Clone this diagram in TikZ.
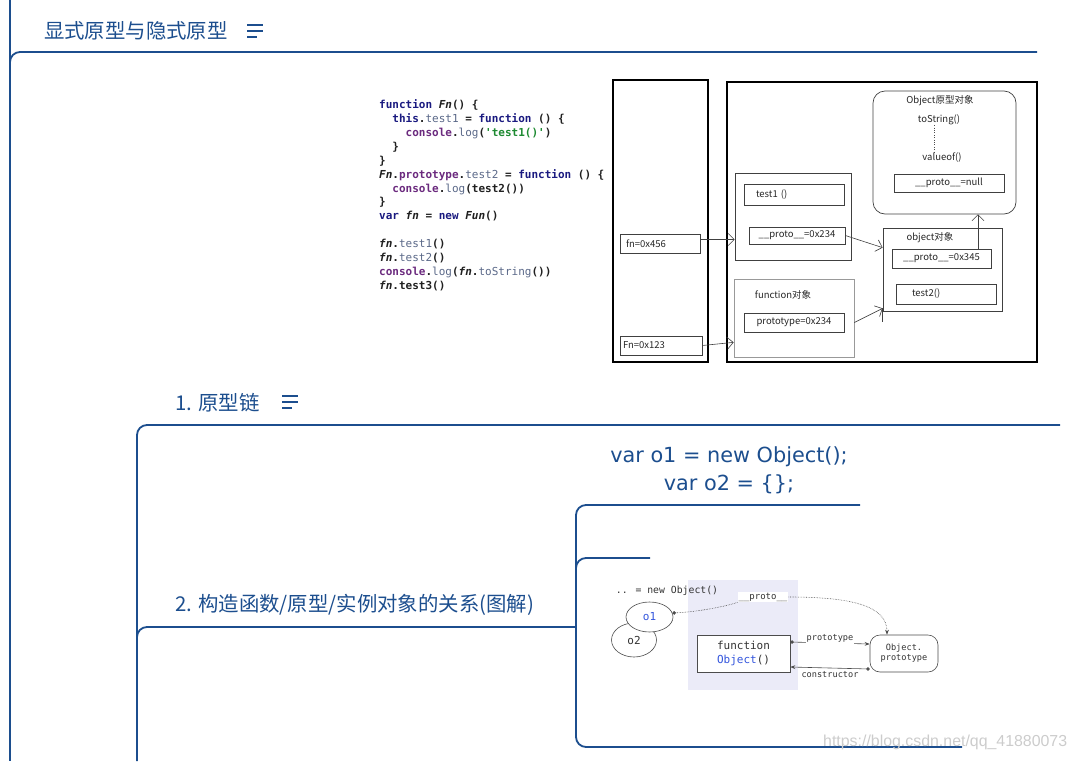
\documentclass[tikz,border=0pt]{standalone}
\usepackage{fontspec}
\usepackage{tikz}
\usetikzlibrary{positioning}
\usetikzlibrary{arrows.meta}
\usetikzlibrary{shapes.geometric}
\usetikzlibrary{calc}
\newfontfamily\cjk{Noto Sans CJK SC}
\newfontfamily\codefont{DejaVu Sans Mono}
\newfontfamily\varfont{DejaVu Sans}
\newfontfamily\markfont{Liberation Sans}
\definecolor{mapblue}{HTML}{1C4E8E}
\definecolor{codeink}{HTML}{202020}
\definecolor{codekw}{HTML}{1A1A80}
\definecolor{codeobj}{HTML}{6B2A7E}
\definecolor{codefld}{HTML}{5A6888}
\definecolor{codestr}{HTML}{1E8A32}
\definecolor{figbg}{HTML}{EBEBF8}
\definecolor{figblue}{HTML}{3355DD}
\newcommand\jskw[1]{\textcolor{codekw}{#1}}
\newcommand\jsobj[1]{\textcolor{codeobj}{#1}}
\newcommand\jsfld[1]{\textcolor{codefld}{\mdseries #1}}
\newcommand\jsstr[1]{\textcolor{codestr}{#1}}

\begin{document}
\begin{tikzpicture}[x=1pt, y=-1pt,
    mapline/.style={draw=mapblue, line width=1.8pt, rounded corners=10pt},
    maptitle/.style={font=\cjk\fontsize{20.4}{24}\selectfont, text=mapblue, anchor=west, inner sep=0},
    menuline/.style={draw=mapblue, line width=1.8pt},
    varcode/.style={font=\varfont\fontsize{20.8}{24}\selectfont, text=mapblue, inner sep=0},
    codetxt/.style={font=\codefont\bfseries\fontsize{11}{13.9}\selectfont, text=codeink, align=left, inner sep=0},
    memframe/.style={draw=black, line width=1.8pt},
    cell/.style={draw=black!75, line width=0.7pt, font=\cjk\fontsize{9.5}{11}\selectfont, text=black!85, inner sep=2pt},
    memtxt/.style={font=\cjk\fontsize{9.5}{11}\selectfont, text=black!85, inner sep=0},
    memarrow/.style={draw=black!75, line width=0.6pt, -{Straight Barb[length=6pt, width=12pt]}},
    figline/.style={draw=black!70, line width=0.6pt},
    figmono/.style={font=\codefont\fontsize{8.6}{10}\selectfont, text=black!80, inner sep=1pt}]
    \useasboundingbox (0,0) rectangle (1077,761);

    % Mind map branches
    \draw[mapline] (10,0) -- (10,761);
    \draw[mapline] (10,80) -- (10,52) -- (1037,52);
    \draw[mapline] (137,761) -- (137,425) -- (1060,425);
    \draw[mapline] (137,650) -- (137,627) -- (576,627);
    \draw[mapline] (860,505) -- (576,505) -- (576,747) -- (962,747);
    \draw[mapline] (576,580) -- (576,558) -- (650,558);

    % Titles
    \node[maptitle] (topic) at (44,31) {显式原型与隐式原型};
    \node[maptitle] (chain) at (175,403) {1. 原型链};
    \node[maptitle] (relation) at (175,605) {2. 构造函数/原型/实例对象的关系(图解)};
    \foreach \ix/\iy in {247/25, 282/396} {
        \draw[menuline] (\ix,\iy) -- ++(16,0); % top bar
        \draw[menuline] (\ix,\iy+6) -- ++(16,0); % middle bar
        \draw[menuline] (\ix,\iy+12) -- ++(10,0); % short bar
    }
    \node[varcode] (o1decl) at (729,457) {var o1 = new Object();};
    \node[varcode] (o2decl) at (729,484) {var o2 = \{\};};

    % Code snippet
    \node[codetxt, anchor=north west] (code) at (379,99.5) {%
\jskw{function} \textit{Fn}() \{\\
\ \ \jskw{this}.\jsfld{test1} = \jskw{function} () \{\\
\ \ \ \ \jsobj{console}.\jsfld{log}(\jsstr{'test1()'})\\
\ \ \}\\
\}\\
\textit{Fn}.\jsobj{prototype}.\jsfld{test2} = \jskw{function} () \{\\
\ \ \jsobj{console}.\jsfld{log}(test2())\\
\}\\
\jskw{var} \textit{fn} = \jskw{new} \textit{Fun}()\\[13.9pt]
\textit{fn}.\jsfld{test1}()\\
\textit{fn}.\jsfld{test2}()\\
\jsobj{console}.\jsfld{log}(\textit{fn}.\jsfld{toString}())\\
\textit{fn}.test3()};

    % Memory layout
    \node[memframe, minimum width=95, minimum height=282] (stack) at (660.5,221) {};
    \node[memframe, minimum width=310, minimum height=280] (heap) at (882,222) {};
    \node[cell, rounded corners=12pt, minimum width=143, minimum height=123] (objproto) at (944.5,152.5) {};
    \node[memtxt] (objprotott) at (940,101) {Object原型对象};
    \node[memtxt] (tostr) at (939,120) {toString()};
    \node[memtxt] (valof) at (942,158) {valueof()};
    \draw[black!70, dotted] ([xshift=-5pt]tostr.south) -- ([xshift=-8pt]valof.north);
    \node[cell, minimum width=110, minimum height=18] (nullp) at (949,183) {\_\_proto\_\_=null};

    \node[cell, minimum width=116, minimum height=87] (inst) at (793,216.5) {};
    \node[cell, inner xsep=12, text width=76, align=left, minimum height=21] (t1) at (794,194.5) {test1 ()};
    \node[cell, minimum width=96, minimum height=17] (p234) at (797,235.5) {\_\_proto\_\_=0x234};
    \node[cell, inner xsep=6, text width=68, align=left, minimum height=19] (fnv) at (660,243.5) {fn=0x456};

    \node[cell, draw=black!40, minimum width=120, minimum height=78] (fobj) at (794,318) {};
    \node[memtxt] (fobjtt) at (783,295) {function对象};
    \node[cell, minimum width=100, minimum height=19] (ptype) at (794,322.5) {prototype=0x234};
    \node[cell, inner xsep=3, text width=76, align=left, minimum height=19] (Fnv) at (661,345.5) {Fn=0x123};

    \node[cell, minimum width=119, minimum height=83] (oobj) at (942.5,269.5) {};
    \node[memtxt] (oobjtt) at (930,238) {object对象};
    \node[cell, minimum width=99, minimum height=19] (p345) at (941.5,258.5) {\_\_proto\_\_=0x345};
    \node[cell, inner xsep=16, text width=68, align=left, minimum height=20] (t2) at (946,294) {test2()};

    \draw[memarrow] ([yshift=4pt]fnv.east) -- ([yshift=4pt]fnv.east -| inst.west);
    \draw[memarrow] (Fnv.east) -- ([yshift=15pt]fobj.south west);
    \draw[memarrow] (p234.east) -- ([yshift=-20pt]oobj.north west);
    \draw[memarrow] (fobj.east |- ptype) -- ([yshift=3pt]oobj.south west);
    \draw[black!75, line width=0.6pt] ([yshift=3pt]oobj.south west) -- ++(0,14);
    \draw[memarrow] ([xshift=36.5pt]p345.north) -- ([xshift=36.5pt]p345.north |- objproto.south);

    % Constructor / prototype / instance figure
    \fill[figbg] (688,580) rectangle (798,690);
    \node[figmono, font=\codefont\fontsize{9.8}{11}\selectfont] (newobj) at (667,591) {.. = new Object()};
    \node[figline, ellipse, fill=white, minimum width=45, minimum height=34, figmono, font=\codefont\fontsize{11}{12}\selectfont] (o2) at (634,640) {o2};
    \node[figline, ellipse, fill=white, minimum width=47, minimum height=30, figmono, font=\codefont\fontsize{11}{12}\selectfont] (o1) at (649.5,617) {\textcolor{figblue}{o1}};
    \node[figline, fill=white, minimum width=93, minimum height=37, align=center, figmono, font=\codefont\fontsize{11}{13.5}\selectfont] (fo) at (743.5,653.5) {function\\\textcolor{figblue}{Object}()};
    \node[figline, rounded corners=10pt, fill=white, minimum width=68, minimum height=37, align=center, figmono, font=\codefont\fontsize{8.6}{10}\selectfont] (op) at (904,653.5) {Object.\\prototype};
    \node[figmono, fill=white, font=\codefont\fontsize{9}{10}\selectfont] (protolbl) at (763,597) {\_\_proto\_\_};

    \draw[figline, densely dotted, {Circle[length=3.5pt]}-] (o1.10) .. controls +(25,-1) and +(-12,4) .. (protolbl.south west);
    \draw[figline, densely dotted, -{Stealth[length=5pt]}] (protolbl.east) .. controls +(60,0) and +(0,-30) .. ([xshift=-17pt]op.north);
    \draw[figline, {Circle[length=3.5pt]}-{Stealth[length=5pt]}] ([yshift=11.5pt]fo.east) -- node[figmono, fill=white, inner ysep=3pt, yshift=5pt] (protoname) {prototype} ([yshift=9.5pt]op.west);
    \draw[figline, {Circle[length=3.5pt]}-{Stealth[length=5pt]}] ([yshift=-15.5pt]op.west) -- node[figmono, fill=white, inner ysep=3pt, yshift=-7pt] (consname) {constructor} ([yshift=-13.5pt]fo.east);

    % Watermark
    \node[font=\markfont\fontsize{15.9}{18}\selectfont, text=black!20, anchor=west, inner sep=0] (wm) at (823,742) {https://blog.csdn.net/qq\_41880073};
\end{tikzpicture}
\end{document}
